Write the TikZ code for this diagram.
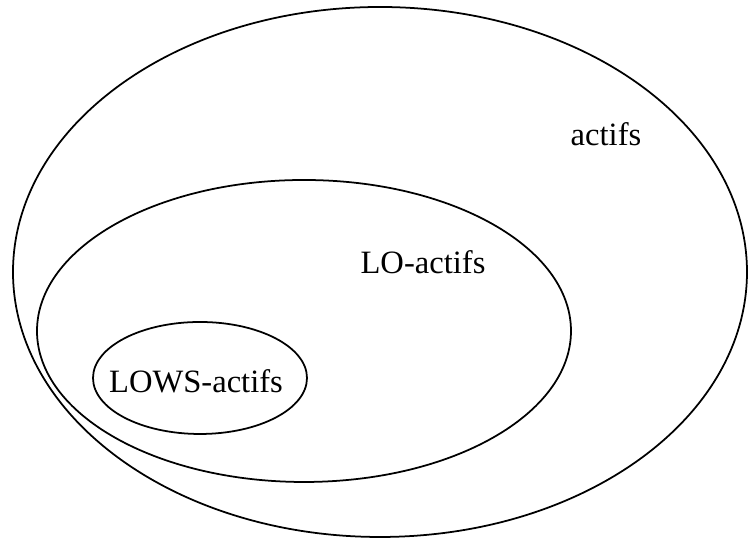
\documentclass[tikz,border=0pt]{standalone}
\usepackage{fontspec}
\setmainfont{Liberation Serif}
\usepackage{tikz}
\usetikzlibrary{positioning}

\begin{document}
\begin{tikzpicture}[
    x=0.011cm, y=-0.011cm,
    set/.style={draw, line width=0.55pt},
    setlabel/.style={inner sep=0pt, font=\fontsize{10.2}{12}\selectfont}
]
\useasboundingbox (0,0) rectangle (749,538);

\draw[set] (380,272) ellipse [x radius=367, y radius=265];
\draw[set] (304,331) ellipse [x radius=267, y radius=151];
\draw[set] (200,378) ellipse [x radius=107, y radius=56];

\node[setlabel] (actifs) at (606,134) {actifs};
\node[setlabel] (lo) at (423,262) {LO-actifs};
\node[setlabel] (lows) at (196,381) {LOWS-actifs};

\end{tikzpicture}
\end{document}
